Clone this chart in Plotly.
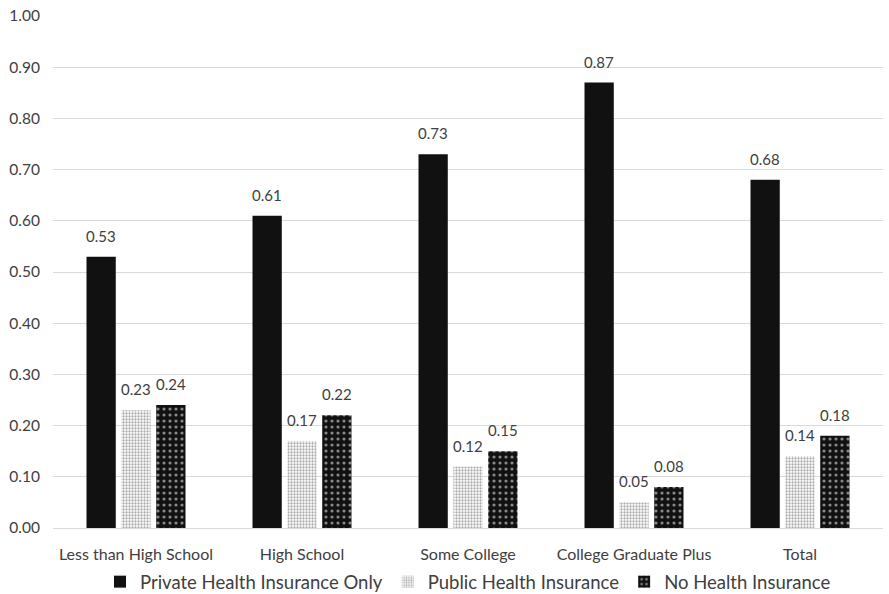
import plotly.graph_objects as go

categories = ["Less than High School", "High School", "Some College",
              "College Graduate Plus", "Total"]
private_only = [0.53, 0.61, 0.73, 0.87, 0.68]
public_ins = [0.23, 0.17, 0.12, 0.05, 0.14]
no_ins = [0.24, 0.22, 0.15, 0.08, 0.18]
series_names = ["Private Health Insurance Only", "Public Health Insurance",
                "No Health Insurance"]

FONT = "Lato, 'Open Sans', sans-serif"
TXT = "#404040"

W, H = 889, 594
L, R, T, B = 53, 6, 16, 66
BARGAP, GROUPGAP = 0.37, 0.16

markers = [
    dict(color="#111111", line=dict(width=0)),
    dict(color="white", line=dict(width=0),
         pattern=dict(shape=".", fgcolor="#555555", bgcolor="#ffffff",
                      size=3, solidity=0.45)),
    dict(color="#111111", line=dict(width=0),
         pattern=dict(shape=".", fgcolor="white", bgcolor="#111111",
                      size=6, solidity=0.22)),
]
series = [private_only, public_ins, no_ins]

fig = go.Figure()
for name, vals, mk in zip(series_names, series, markers):
    fig.add_trace(go.Bar(name=name, x=categories, y=vals, marker=mk))

# value labels above each bar, shifted sideways to the bar's slot in the group
slot_px = (W - L - R) / len(categories) * (1 - BARGAP) / len(series)
for i, vals in enumerate(series):
    for cat, v in zip(categories, vals):
        fig.add_annotation(
            x=cat, y=v, text=f"{v:.2f}", showarrow=False,
            xshift=(i - 1) * slot_px, yshift=10, yanchor="bottom",
            font=dict(size=15, color=TXT, family=FONT),
        )

fig.update_layout(
    width=W, height=H,
    margin=dict(l=L, r=R, t=T, b=B, autoexpand=False),
    plot_bgcolor="white", paper_bgcolor="white",
    barmode="group", bargap=BARGAP, bargroupgap=GROUPGAP,
    font=dict(family=FONT, size=15, color=TXT),
    showlegend=True,
    legend=dict(orientation="h", x=0.5, xanchor="center",
                yref="container", y=0.02, yanchor="middle",
                font=dict(size=18.5, color=TXT), itemwidth=30,
                traceorder="normal"),
    xaxis=dict(showgrid=False, showline=True, linecolor="#d9d9d9", linewidth=1,
               ticks="", ticklabelstandoff=12,
               tickfont=dict(size=16, color=TXT)),
    yaxis=dict(range=[0, 1.0], dtick=0.1, tickformat=".2f", showgrid=True,
               gridcolor="#d9d9d9", gridwidth=1, zeroline=False, showline=False,
               ticks="", ticklabelstandoff=12, tickfont=dict(size=15.5, color=TXT)),
)

fig.write_html("out.html")
